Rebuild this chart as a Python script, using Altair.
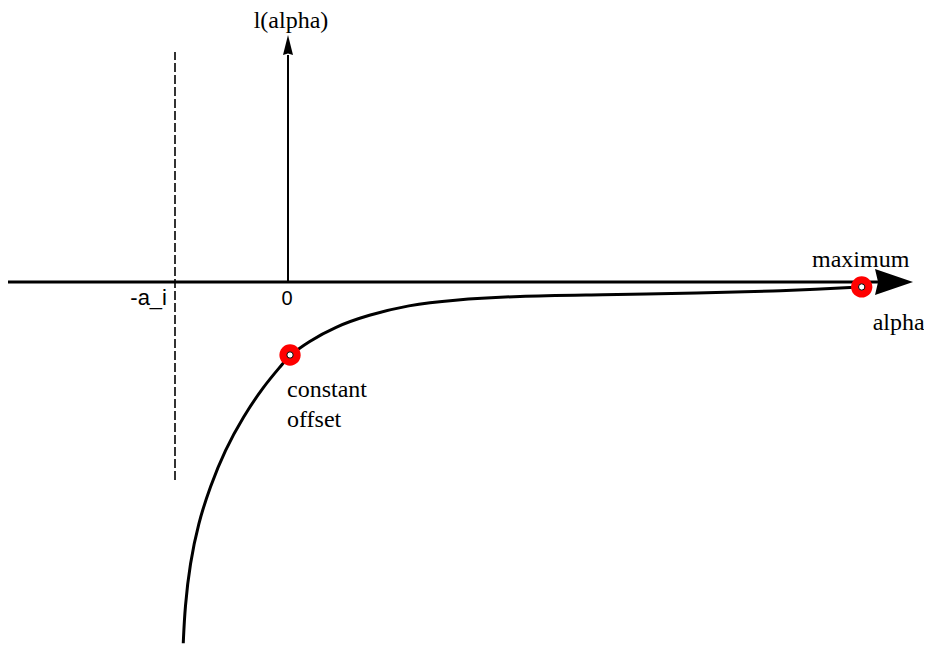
import altair as alt
import pandas as pd

# ---- data (alpha units: -a_i = -1, origin at 0) ----
curve_alpha = [-0.927, -0.912, -0.867, -0.794, -0.690, -0.558, -0.396, -0.219, -0.056,
               0.018, 0.180, 0.416, 0.711, 1.065, 1.449, 2.027, 2.761, 3.646, 4.354,
               5.080, 5.168]
curve_l = [-3.197, -2.873, -2.489, -2.135, -1.811, -1.487, -1.192, -0.927, -0.735,
           -0.646, -0.528, -0.396, -0.292, -0.204, -0.159, -0.124, -0.115, -0.097, -0.080,
           -0.044, -0.035]

marker_names = ["constant offset", "maximum"]
marker_alpha = [0.018, 5.077]
marker_l = [-0.646, -0.044]

a_i = -1.0
asym_top, asym_bottom = 2.035, -1.752
x_left, x_arrow = -2.478, 5.221
y_arrow = 2.009

# ---- layout ----
U = 113.0
W, H = 916, 632
OX, OY = 288 - 8, 282 - 8          # origin position inside the plot area
xs = alt.Scale(domain=[-OX / U, (W - OX) / U], nice=False, zero=False)
ys = alt.Scale(domain=[(OY - H) / U, OY / U], nice=False, zero=False)

curve_df = pd.DataFrame({"x": curve_alpha, "y": curve_l, "o": list(range(len(curve_alpha)))})
mk_df = pd.DataFrame({"x": marker_alpha, "y": marker_l, "name": marker_names})


def X(f="x"):
    return alt.X(f"{f}:Q", scale=xs, axis=None)


def Y(f="y"):
    return alt.Y(f"{f}:Q", scale=ys, axis=None)


h_axis = alt.Chart(pd.DataFrame({"x": [x_left], "x2": [x_arrow], "y": [0.0]})).mark_rule(
    color="black", strokeWidth=3).encode(x=X(), x2="x2:Q", y=Y())
v_axis = alt.Chart(pd.DataFrame({"x": [0.0], "y": [0.0], "y2": [y_arrow]})).mark_rule(
    color="black", strokeWidth=2).encode(x=X(), y=Y(), y2="y2:Q")
asym = alt.Chart(pd.DataFrame({"x": [a_i], "y": [asym_bottom], "y2": [asym_top]})).mark_rule(
    color="black", strokeWidth=1.6, strokeDash=[9, 3]).encode(x=X(), y=Y(), y2="y2:Q")

right_head = alt.Chart(pd.DataFrame({"x": [5.363], "y": [0.0]})).mark_point(
    shape="M1,0L-1,-0.68L-0.84,0L-1,0.68Z", size=1444, filled=True, fill="black",
    strokeWidth=0, opacity=1).encode(x=X(), y=Y())
top_head = alt.Chart(pd.DataFrame({"x": [0.0], "y": [2.097]})).mark_point(
    shape="M0,-1L0.5,1L0,0.85L-0.5,1Z", size=400, filled=True, fill="black",
    strokeWidth=0, opacity=1).encode(x=X(), y=Y())

line = alt.Chart(curve_df).mark_line(color="black", strokeWidth=3, interpolate="basis").encode(
    x=X(), y=Y(), order="o:Q")

red = alt.Chart(mk_df).mark_point(shape="circle", size=452, filled=True, fill="#ff0000",
                                  strokeWidth=0, opacity=1).encode(x=X(), y=Y())
hole = alt.Chart(mk_df).mark_point(shape="circle", size=40, filled=True, fill="white",
                                   stroke="black", strokeWidth=1, opacity=1).encode(x=X(), y=Y())

serif = "Liberation Serif"
sans = "Liberation Sans"


def label(x, y, text, font, size, align, dx=0, dy=0):
    return alt.Chart(pd.DataFrame({"x": [x], "y": [y], "t": [text]})).mark_text(
        font=font, fontSize=size, align=align, baseline="alphabetic", color="black",
        dx=dx, dy=dy).encode(x=X(), y=Y(), text="t:N")


texts = [
    label(0.0, y_arrow, "l(alpha)", serif, 24, "center", dx=3, dy=-27),
    label(a_i, 0.0, "-a_i", sans, 22, "right", dx=-8, dy=23),
    label(0.0, 0.0, "0", sans, 20, "center", dx=-1, dy=23),
    label(marker_alpha[1], 0.0, "maximum", serif, 24, "center", dx=-1, dy=-15),
    label(marker_alpha[1], 0.0, "alpha", serif, 24, "left", dx=11, dy=48),
    label(marker_alpha[0], marker_l[0], "constant", serif, 24, "left", dx=-3, dy=42),
    label(marker_alpha[0], marker_l[0], "offset", serif, 24, "left", dx=-3, dy=72),
]

chart = alt.layer(h_axis, v_axis, asym, right_head, top_head, line, red, hole, *texts).properties(
    width=W, height=H, autosize=alt.AutoSizeParams(type="none"),
    padding={"left": 0, "top": 0, "right": 0, "bottom": 8},
).configure_view(stroke=None)

chart.save("out.html", embed_options={"renderer": "svg", "actions": False})
